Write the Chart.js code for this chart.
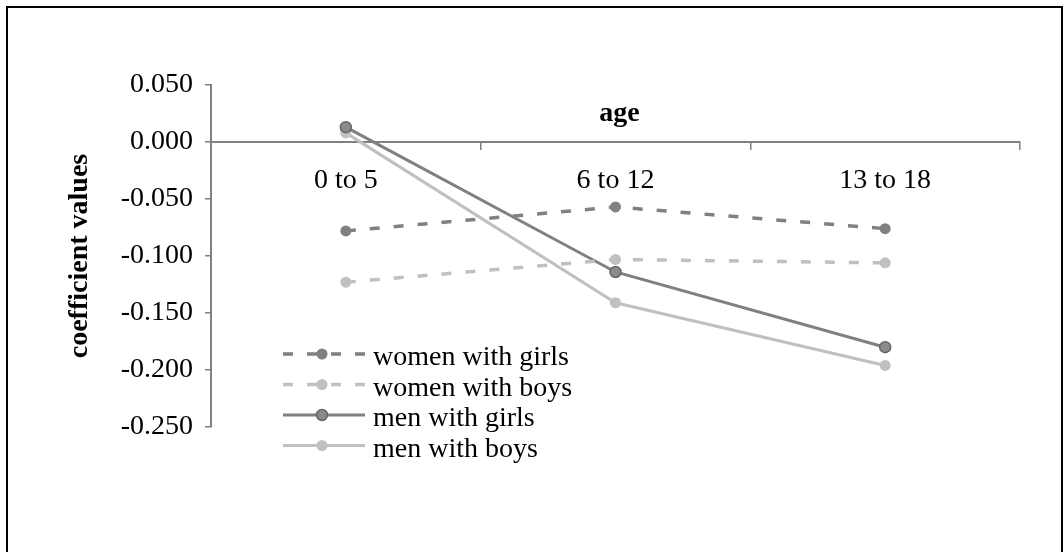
<!DOCTYPE html>
<html>
<head>
<meta charset="utf-8">
<script src="https://cdn.jsdelivr.net/npm/chart.js@4"></script>
<style>
  html, body { margin: 0; padding: 0; background: #fff; }
  #wrap { width: 1064px; height: 552px; }
</style>
</head>
<body>
<div id="wrap"><canvas id="coefChart"></canvas></div>
<script>
const ageGroups = ['0 to 5', '6 to 12', '13 to 18'];
const womenWithGirls = [-0.078, -0.057, -0.076];
const womenWithBoys = [-0.123, -0.103, -0.106];
const menWithGirls = [0.013, -0.114, -0.180];
const menWithBoys = [0.008, -0.141, -0.196];
const seriesNames = ['women with girls', 'women with boys', 'men with girls', 'men with boys'];

const dark = '#808080';
const light = '#c0c0c0';
const serif = 'Liberation Serif';

// frame round the whole picture
const framePlugin = {
  id: 'frame',
  afterDraw(chart) {
    const ctx = chart.ctx;
    ctx.save();
    ctx.strokeStyle = '#000';
    ctx.lineWidth = 2;
    ctx.strokeRect(7, 7, 1055, 600);
    ctx.restore();
  }
};

// "age" title sits above the zero line
const ageTitlePlugin = {
  id: 'ageTitle',
  afterDraw(chart) {
    const ctx = chart.ctx;
    const area = chart.chartArea;
    const y0 = chart.scales.y.getPixelForValue(0);
    ctx.save();
    ctx.font = 'bold 28px "' + serif + '"';
    ctx.fillStyle = '#000';
    ctx.textAlign = 'center';
    ctx.textBaseline = 'alphabetic';
    ctx.fillText('age', (area.left + area.right) / 2 + 4, y0 - 21);
    ctx.restore();
  }
};

// legend inside the plot, line with marker in the middle
const lineLegendPlugin = {
  id: 'lineLegend',
  afterDraw(chart) {
    const ctx = chart.ctx;
    const area = chart.chartArea;
    const x0 = area.left + 72;
    const len = 82;
    chart.data.datasets.forEach((ds, i) => {
      const y = area.top + 269 + i * 30.5;
      ctx.save();
      ctx.strokeStyle = ds.borderColor;
      ctx.lineWidth = ds.borderWidth;
      ctx.setLineDash(ds.borderDash || []);
      ctx.beginPath();
      ctx.moveTo(x0, y);
      ctx.lineTo(x0 + len, y);
      ctx.stroke();
      ctx.setLineDash([]);
      ctx.beginPath();
      ctx.arc(x0 + 39, y, ds.pointRadius, 0, Math.PI * 2);
      ctx.fillStyle = ds.pointBackgroundColor;
      ctx.fill();
      if (ds.pointBorderWidth) {
        ctx.strokeStyle = ds.pointBorderColor;
        ctx.lineWidth = ds.pointBorderWidth;
        ctx.stroke();
      }
      ctx.font = '28px "' + serif + '"';
      ctx.fillStyle = '#000';
      ctx.textAlign = 'left';
      ctx.textBaseline = 'alphabetic';
      ctx.fillText(ds.label, x0 + 90, y + 11);
      ctx.restore();
    });
  }
};

function series(label, data, color, dashed, ring) {
  return {
    label: label,
    data: data,
    borderColor: color,
    borderWidth: dashed ? 3.5 : 3,
    borderDash: dashed ? [10, 14] : [],
    pointRadius: 5.5,
    pointBackgroundColor: ring ? '#8a8a8a' : color,
    pointBorderColor: ring ? '#666666' : color,
    pointBorderWidth: ring ? 1.5 : 0,
    tension: 0
  };
}

new Chart(document.getElementById('coefChart'), {
  type: 'line',
  data: {
    labels: ageGroups,
    datasets: [
      series(seriesNames[0], womenWithGirls, dark, true, false),
      series(seriesNames[1], womenWithBoys, light, true, false),
      series(seriesNames[2], menWithGirls, dark, false, true),
      series(seriesNames[3], menWithBoys, light, false, false)
    ]
  },
  options: {
    responsive: true,
    maintainAspectRatio: false,
    animation: false,
    layout: { padding: { left: 0, top: 85, right: 44, bottom: 125 } },
    plugins: {
      legend: { display: false },
      tooltip: { enabled: false }
    },
    scales: {
      x: {
        type: 'category',
        position: { y: 0 },
        offset: true,
        grid: {
          offset: true,
          drawOnChartArea: false,
          drawTicks: true,
          tickLength: 7,
          color: dark,
          lineWidth: 1.5
        },
        border: { color: dark, width: 2 },
        ticks: {
          color: '#000',
          padding: 15,
          maxRotation: 0,
          font: { family: serif, size: 28 }
        }
      },
      y: {
        min: -0.25,
        max: 0.05,
        afterFit(scale) { scale.width = 211; },
        grid: {
          drawOnChartArea: false,
          tickLength: 6,
          color: dark,
          lineWidth: 1.5
        },
        border: { color: dark, width: 2 },
        ticks: {
          stepSize: 0.05,
          color: '#000',
          padding: 12,
          font: { family: serif, size: 28 },
          callback: v => (Math.abs(v) < 1e-9 ? 0 : v).toFixed(3)
        },
        title: {
          display: true,
          text: 'coefficient values',
          color: '#000',
          padding: { top: 63, bottom: 0 },
          font: { family: serif, size: 28, weight: 'bold' }
        }
      }
    }
  },
  plugins: [framePlugin, ageTitlePlugin, lineLegendPlugin]
});
</script>
</body>
</html>
